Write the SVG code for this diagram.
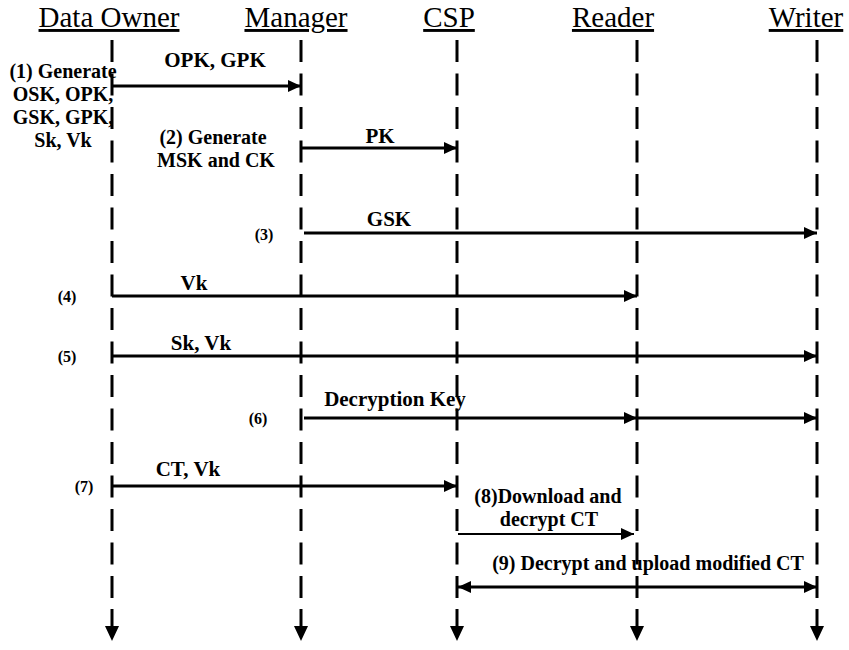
<svg xmlns="http://www.w3.org/2000/svg" width="849" height="650" viewBox="0 0 849 650">
<style>
.hdr{font-family:"Liberation Serif","Times New Roman",serif;font-size:29px;text-decoration:underline;text-anchor:middle;fill:#000}
.lbl{font-family:"Liberation Serif","Times New Roman",serif;font-weight:bold;font-size:21px;text-anchor:middle;fill:#000}
.step{font-family:"Liberation Serif","Times New Roman",serif;font-weight:bold;font-size:20px;text-anchor:middle;fill:#000}
.num{font-family:"Liberation Serif","Times New Roman",serif;font-weight:bold;font-size:16px;text-anchor:middle;fill:#000}
.life{stroke:#000;stroke-width:3;stroke-dasharray:22 11.5;fill:none}
.tail{stroke:#000;stroke-width:3;fill:none}
.msg{stroke:#000;stroke-width:3;fill:none;marker-end:url(#ah)}
.thin{stroke:#000;stroke-width:2;fill:none;marker-end:url(#ah)}
</style>
<defs>
<marker id="ah" markerUnits="userSpaceOnUse" markerWidth="14" markerHeight="12" refX="13" refY="6" orient="auto">
<path d="M0,0 L13,6 L0,12 Z" fill="#000"/>
</marker>
<marker id="ahs" markerUnits="userSpaceOnUse" markerWidth="14" markerHeight="12" refX="1" refY="6" orient="auto">
<path d="M14,0 L1,6 L14,12 Z" fill="#000"/>
</marker>
</defs>

<g id="data-owner">
<text class="hdr" x="109" y="27">Data Owner</text>
<line class="life" x1="112" y1="40" x2="112" y2="605"/>
<line class="tail" x1="112" y1="609" x2="112" y2="628"/>
<path d="M105,626 L119,626 L112,641 Z" fill="#000"/>
</g>
<g id="manager">
<text class="hdr" x="296" y="27">Manager</text>
<line class="life" x1="301" y1="40" x2="301" y2="605"/>
<line class="tail" x1="301" y1="609" x2="301" y2="628"/>
<path d="M294,626 L308,626 L301,641 Z" fill="#000"/>
</g>
<g id="csp">
<text class="hdr" x="449" y="27">CSP</text>
<line class="life" x1="457" y1="40" x2="457" y2="605"/>
<line class="tail" x1="457" y1="609" x2="457" y2="628"/>
<path d="M450,626 L464,626 L457,641 Z" fill="#000"/>
</g>
<g id="reader">
<text class="hdr" x="613" y="27">Reader</text>
<line class="life" x1="637" y1="40" x2="637" y2="605"/>
<line class="tail" x1="637" y1="609" x2="637" y2="628"/>
<path d="M630,626 L644,626 L637,641 Z" fill="#000"/>
</g>
<g id="writer">
<text class="hdr" x="806" y="27">Writer</text>
<line class="life" x1="817" y1="40" x2="817" y2="605"/>
<line class="tail" x1="817" y1="609" x2="817" y2="628"/>
<path d="M810,626 L824,626 L817,641 Z" fill="#000"/>
</g>

<g id="connectors">
<line class="msg" x1="112" y1="86" x2="301" y2="86"/>
<line class="msg" x1="301" y1="148" x2="457" y2="148"/>
<line class="msg" x1="304" y1="233" x2="817" y2="233"/>
<line class="msg" x1="112" y1="296" x2="637" y2="296"/>
<line class="msg" x1="112" y1="356" x2="817" y2="356"/>
<line class="msg" x1="304" y1="418" x2="637" y2="418"/>
<line class="msg" x1="637" y1="418" x2="817" y2="418"/>
<line class="msg" x1="112" y1="486" x2="457" y2="486"/>
<line class="thin" x1="458" y1="534" x2="634" y2="534"/>
<line class="msg" x1="458" y1="587" x2="817" y2="587" marker-start="url(#ahs)"/>
</g>

<g id="labels">
<text class="step" x="63" y="78">(1) Generate</text>
<text class="step" x="63" y="101">OSK, OPK,</text>
<text class="step" x="63" y="124">GSK, GPK,</text>
<text class="step" x="63" y="147">Sk, Vk</text>
<text class="lbl" x="215" y="67">OPK, GPK</text>
<text class="step" x="213" y="144">(2) Generate</text>
<text class="step" x="216" y="167">MSK and CK</text>
<text class="lbl" x="380" y="143">PK</text>
<text class="lbl" x="389" y="226">GSK</text>
<text class="num" x="264" y="240">(3)</text>
<text class="lbl" x="194" y="290">Vk</text>
<text class="num" x="67" y="302">(4)</text>
<text class="lbl" x="201" y="350">Sk, Vk</text>
<text class="num" x="67" y="362">(5)</text>
<text class="lbl" x="395" y="406">Decryption Key</text>
<text class="num" x="258" y="424">(6)</text>
<text class="lbl" x="188" y="476">CT, Vk</text>
<text class="num" x="84" y="492">(7)</text>
<text class="step" x="548" y="503">(8)Download and</text>
<text class="step" x="549" y="526">decrypt CT</text>
<text class="step" x="648" y="570">(9) Decrypt and upload modified CT</text>
</g>
</svg>
